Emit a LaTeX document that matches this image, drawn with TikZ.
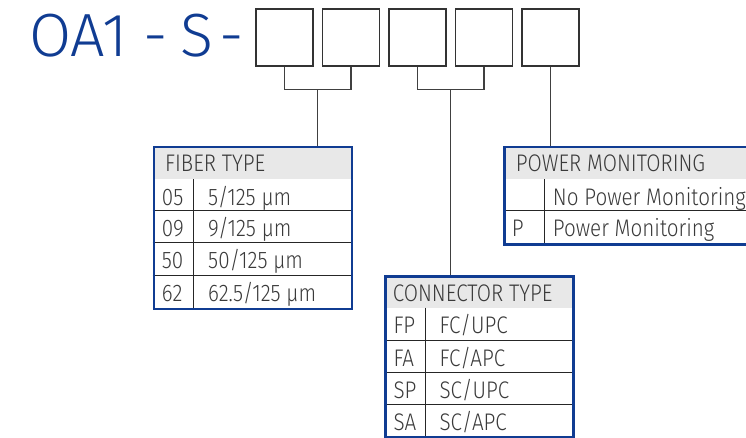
\documentclass[tikz,border=0pt]{standalone}
\usepackage{fontspec}
\setmainfont{Fira Sans}[UprightFont=* Light, FakeStretch=0.86]
\newfontfamily\codefont{Fira Sans}[UprightFont=* Light]
\usetikzlibrary{calc}

\definecolor{codeblue}{RGB}{16,60,146}
\definecolor{textgray}{RGB}{58,58,58}
\definecolor{headgray}{RGB}{232,232,232}

\tikzset{
    slot/.style={draw=black!80, line width=1.3pt, minimum width=57pt, minimum height=57pt, inner sep=0pt},
    link/.style={draw=black!75, line width=1.2pt},
    tablebox/.style={draw=codeblue, line width=2.8pt, inner sep=0pt, anchor=north west},
    rowline/.style={black!85, line width=1pt},
    cell/.style={text=textgray, font=\fontsize{24}{27}\selectfont, inner sep=0pt, anchor=base west},
}

\begin{document}
\begin{tikzpicture}[x=1pt, y=-1pt]
        \useasboundingbox (0,0) rectangle (746,437);
        \clip (0,0) rectangle (746,437);

        % Order code
        \node[text=codeblue, font=\codefont\fontsize{61}{64}\selectfont, inner sep=0pt, anchor=base west] (title) at (29,56) {OA1\hspace{16pt}-\hspace{13pt}S\hspace{6pt}-};
        \foreach \i/\x in {1/284.5, 2/351, 3/417.5, 4/484, 5/550.5}
            \node[slot] (s\i) at (\x,37.5) {};

        % Fiber type
        \fill[headgray] (152.5,145.5) rectangle (350.5,179);
        \draw[rowline] (152.5,210.7) -- (350.5,210.7);
        \draw[rowline] (152.5,242.7) -- (350.5,242.7);
        \draw[rowline] (152.5,275) -- (350.5,275);
        \draw[rowline] (193.3,179) -- (193.3,307.5);
        \node[tablebox, minimum width=198pt, minimum height=162pt] (fiber) at (152.5,145.5) {};
        \node[cell] (fiberhead) at (165,171.7) {FIBER TYPE};
        \node[cell] (f05) at (161.7,205) {05};
        \node[cell] (f05v) at (208,205) {5/125 µm};
        \node[cell] (f09) at (161.7,236.7) {09};
        \node[cell] (f09v) at (208,236.7) {9/125 µm};
        \node[cell] (f50) at (161.7,268.7) {50};
        \node[cell] (f50v) at (208,268.7) {50/125 µm};
        \node[cell] (f62) at (161.7,301) {62};
        \node[cell] (f62v) at (208,301) {62.5/125 µm};

        % Connector type
        \fill[headgray] (384,275) rectangle (571.7,307.7);
        \draw[rowline] (384,340) -- (571.7,340);
        \draw[rowline] (384,372.3) -- (571.7,372.3);
        \draw[rowline] (384,404.3) -- (571.7,404.3);
        \draw[rowline] (425,307.7) -- (425,436);
        \node[tablebox, minimum width=187.7pt, minimum height=161pt] (conn) at (384,275) {};
        \node[cell] (connhead) at (392.7,301) {CONNECTOR TYPE};
        \node[cell] (cfp) at (393.3,333.7) {FP};
        \node[cell] (cfpv) at (439.3,333.7) {FC/UPC};
        \node[cell] (cfa) at (393.3,366) {FA};
        \node[cell] (cfav) at (439.3,366) {FC/APC};
        \node[cell] (csp) at (393.3,398.3) {SP};
        \node[cell] (cspv) at (439.3,398.3) {SC/UPC};
        \node[cell] (csa) at (393.3,430.3) {SA};
        \node[cell] (csav) at (439.3,430.3) {SC/APC};

        % Power monitoring
        \fill[headgray] (503.3,145.5) rectangle (770,179);
        \draw[rowline] (503.3,210.7) -- (770,210.7);
        \draw[rowline] (544.3,179) -- (544.3,243.3);
        \node[tablebox, minimum width=266pt, minimum height=97.8pt] (power) at (503.3,145.5) {};
        \node[cell] (powerhead) at (515.7,171.7) {POWER MONITORING};
        \node[cell] (pnov) at (552.7,205) {No Power Monitoring};
        \node[cell] (pp) at (511.7,236.7) {P};
        \node[cell] (ppv) at (552.7,236.7) {Power Monitoring};

        % Links
        \coordinate (j1) at ($(s1.south)!0.5!(s2.south)+(0,23)$);
        \coordinate (j2) at ($(s3.south)!0.5!(s4.south)+(0,23)$);
        \draw[link] (s1.south) |- (j1) -| (s2.south);
        \draw[link] (s3.south) |- (j2) -| (s4.south);
        \draw[link] (j1) -- (j1 |- fiber.north);
        \draw[link] (j2) -- (j2 |- conn.north);
        \draw[link] (s5.south) -- (s5.south |- power.north);
\end{tikzpicture}
\end{document}
